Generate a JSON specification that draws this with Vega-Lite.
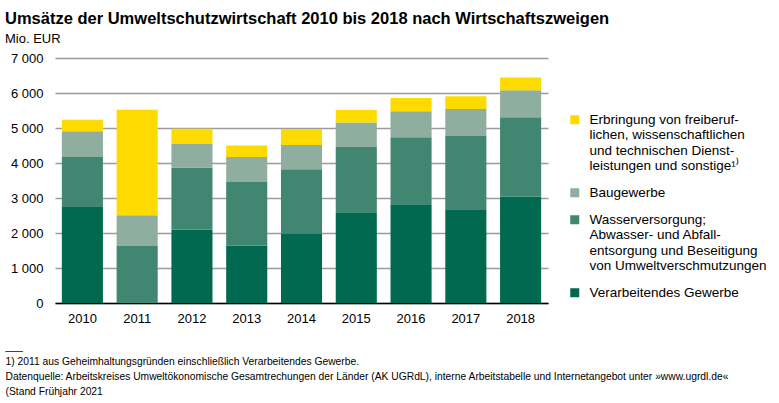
{
  "$schema": "https://vega.github.io/schema/vega-lite/v6.json",
  "autosize": {"type": "none"},
  "width": 493,
  "height": 245,
  "padding": {"left": 55, "top": 58, "right": 231, "bottom": 100},
  "background": "white",
  "title": {
    "text": "Umsätze der Umweltschutzwirtschaft 2010 bis 2018 nach Wirtschaftszweigen",
    "subtitle": "Mio. EUR",
    "anchor": "start",
    "frame": "bounds",
    "font": "Liberation Sans",
    "fontSize": 16.5,
    "fontWeight": "bold",
    "color": "black",
    "subtitleFont": "Liberation Sans",
    "subtitleFontSize": 13,
    "subtitleColor": "black",
    "subtitlePadding": 6,
    "offset": 6
  },
  "data": {
    "values": [
      {"Jahr": "2010", "Zweig": "Verarbeitendes Gewerbe", "Umsatz": 2740},
      {"Jahr": "2010", "Zweig": "Wasserversorgung; Abwasser- und Abfallentsorgung und Beseitigung von Umweltverschmutzungen", "Umsatz": 1430},
      {"Jahr": "2010", "Zweig": "Baugewerbe", "Umsatz": 740},
      {"Jahr": "2010", "Zweig": "Erbringung von freiberuflichen, wissenschaftlichen und technischen Dienstleistungen und sonstige", "Umsatz": 325},
      {"Jahr": "2011", "Zweig": "Verarbeitendes Gewerbe", "Umsatz": 0},
      {"Jahr": "2011", "Zweig": "Wasserversorgung; Abwasser- und Abfallentsorgung und Beseitigung von Umweltverschmutzungen", "Umsatz": 1630},
      {"Jahr": "2011", "Zweig": "Baugewerbe", "Umsatz": 875},
      {"Jahr": "2011", "Zweig": "Erbringung von freiberuflichen, wissenschaftlichen und technischen Dienstleistungen und sonstige", "Umsatz": 3015},
      {"Jahr": "2012", "Zweig": "Verarbeitendes Gewerbe", "Umsatz": 2100},
      {"Jahr": "2012", "Zweig": "Wasserversorgung; Abwasser- und Abfallentsorgung und Beseitigung von Umweltverschmutzungen", "Umsatz": 1770},
      {"Jahr": "2012", "Zweig": "Baugewerbe", "Umsatz": 690},
      {"Jahr": "2012", "Zweig": "Erbringung von freiberuflichen, wissenschaftlichen und technischen Dienstleistungen und sonstige", "Umsatz": 420},
      {"Jahr": "2013", "Zweig": "Verarbeitendes Gewerbe", "Umsatz": 1645},
      {"Jahr": "2013", "Zweig": "Wasserversorgung; Abwasser- und Abfallentsorgung und Beseitigung von Umweltverschmutzungen", "Umsatz": 1810},
      {"Jahr": "2013", "Zweig": "Baugewerbe", "Umsatz": 720},
      {"Jahr": "2013", "Zweig": "Erbringung von freiberuflichen, wissenschaftlichen und technischen Dienstleistungen und sonstige", "Umsatz": 325},
      {"Jahr": "2014", "Zweig": "Verarbeitendes Gewerbe", "Umsatz": 1975},
      {"Jahr": "2014", "Zweig": "Wasserversorgung; Abwasser- und Abfallentsorgung und Beseitigung von Umweltverschmutzungen", "Umsatz": 1850},
      {"Jahr": "2014", "Zweig": "Baugewerbe", "Umsatz": 690},
      {"Jahr": "2014", "Zweig": "Erbringung von freiberuflichen, wissenschaftlichen und technischen Dienstleistungen und sonstige", "Umsatz": 460},
      {"Jahr": "2015", "Zweig": "Verarbeitendes Gewerbe", "Umsatz": 2590},
      {"Jahr": "2015", "Zweig": "Wasserversorgung; Abwasser- und Abfallentsorgung und Beseitigung von Umweltverschmutzungen", "Umsatz": 1870},
      {"Jahr": "2015", "Zweig": "Baugewerbe", "Umsatz": 700},
      {"Jahr": "2015", "Zweig": "Erbringung von freiberuflichen, wissenschaftlichen und technischen Dienstleistungen und sonstige", "Umsatz": 355},
      {"Jahr": "2016", "Zweig": "Verarbeitendes Gewerbe", "Umsatz": 2820},
      {"Jahr": "2016", "Zweig": "Wasserversorgung; Abwasser- und Abfallentsorgung und Beseitigung von Umweltverschmutzungen", "Umsatz": 1915},
      {"Jahr": "2016", "Zweig": "Baugewerbe", "Umsatz": 745},
      {"Jahr": "2016", "Zweig": "Erbringung von freiberuflichen, wissenschaftlichen und technischen Dienstleistungen und sonstige", "Umsatz": 375},
      {"Jahr": "2017", "Zweig": "Verarbeitendes Gewerbe", "Umsatz": 2680},
      {"Jahr": "2017", "Zweig": "Wasserversorgung; Abwasser- und Abfallentsorgung und Beseitigung von Umweltverschmutzungen", "Umsatz": 2095},
      {"Jahr": "2017", "Zweig": "Baugewerbe", "Umsatz": 765},
      {"Jahr": "2017", "Zweig": "Erbringung von freiberuflichen, wissenschaftlichen und technischen Dienstleistungen und sonstige", "Umsatz": 365},
      {"Jahr": "2018", "Zweig": "Verarbeitendes Gewerbe", "Umsatz": 3040},
      {"Jahr": "2018", "Zweig": "Wasserversorgung; Abwasser- und Abfallentsorgung und Beseitigung von Umweltverschmutzungen", "Umsatz": 2270},
      {"Jahr": "2018", "Zweig": "Baugewerbe", "Umsatz": 770},
      {"Jahr": "2018", "Zweig": "Erbringung von freiberuflichen, wissenschaftlichen und technischen Dienstleistungen und sonstige", "Umsatz": 365}
    ]
  },
  "transform": [
    {"calculate": "indexof(['Verarbeitendes Gewerbe', 'Wasserversorgung; Abwasser- und Abfallentsorgung und Beseitigung von Umweltverschmutzungen', 'Baugewerbe', 'Erbringung von freiberuflichen, wissenschaftlichen und technischen Dienstleistungen und sonstige'], datum.Zweig)", "as": "Rang"}
  ],
  "mark": {"type": "bar", "strokeWidth": 0},
  "encoding": {
    "x": {
      "field": "Jahr",
      "type": "ordinal",
      "scale": {"paddingInner": 0.25, "paddingOuter": 0.125},
      "axis": {
        "labelAngle": 0,
        "labelFontSize": 13,
        "labelColor": "black",
        "labelPadding": 9,
        "ticks": false,
        "domainColor": "black",
        "domainWidth": 1.5,
        "title": [
          "___",
          "1) 2011 aus Geheimhaltungsgründen einschließlich Verarbeitendes Gewerbe.",
          "Datenquelle: Arbeitskreises Umweltökonomische Gesamtrechungen der Länder (AK UGRdL), interne Arbeitstabelle und Internetangebot unter »www.ugrdl.de«",
          "(Stand Frühjahr 2021"
        ],
        "titleFont": "Liberation Sans",
        "titleFontSize": 10.3,
        "titleFontWeight": "normal",
        "titleColor": "black",
        "titleAlign": "left",
        "titleAnchor": "start",
        "titleBaseline": "alphabetic",
        "titleLineHeight": 15,
        "titleX": -50,
        "titleY": 46
      }
    },
    "y": {
      "field": "Umsatz",
      "type": "quantitative",
      "stack": "zero",
      "scale": {"domain": [0, 7000]},
      "axis": {
        "title": null,
        "values": [0, 1000, 2000, 3000, 4000, 5000, 6000, 7000],
        "labelExpr": "replace(format(datum.value, ','), ',', ' ')",
        "labelFontSize": 13,
        "labelColor": "black",
        "labelPadding": 12,
        "ticks": false,
        "domain": false,
        "grid": true,
        "gridColor": "#9b9b9b",
        "gridWidth": 1.5
      }
    },
    "color": {
      "field": "Zweig",
      "type": "nominal",
      "scale": {
        "domain": [
          "Erbringung von freiberuflichen, wissenschaftlichen und technischen Dienstleistungen und sonstige",
          "Baugewerbe",
          "Wasserversorgung; Abwasser- und Abfallentsorgung und Beseitigung von Umweltverschmutzungen",
          "Verarbeitendes Gewerbe"
        ],
        "range": ["#fedb00", "#90aea0", "#418670", "#00694f"]
      },
      "legend": {
        "title": null,
        "orient": "none",
        "legendX": 513,
        "legendY": 55,
        "padding": 0,
        "symbolType": "square",
        "symbolSize": 81,
        "symbolStrokeWidth": 0,
        "labelFont": "Liberation Sans",
        "labelFontSize": 13.5,
        "labelColor": "black",
        "labelOffset": 8,
        "labelLimit": 260,
        "rowPadding": 12,
        "labelExpr": "datum.value == 'Baugewerbe' ? 'Baugewerbe' : datum.value == 'Verarbeitendes Gewerbe' ? 'Verarbeitendes Gewerbe' : datum.value == 'Wasserversorgung; Abwasser- und Abfallentsorgung und Beseitigung von Umweltverschmutzungen' ? ['Wasserversorgung;', 'Abwasser- und Abfall-', 'entsorgung und Beseitigung', 'von Umweltverschmutzungen'] : ['Erbringung von freiberuf-', 'lichen, wissenschaftlichen', 'und technischen Dienst-', 'leistungen und sonstige¹⁾']"
      }
    },
    "order": {"field": "Rang", "type": "quantitative", "sort": "ascending"}
  },
  "config": {
    "font": "Liberation Sans",
    "view": {"stroke": null}
  }
}
